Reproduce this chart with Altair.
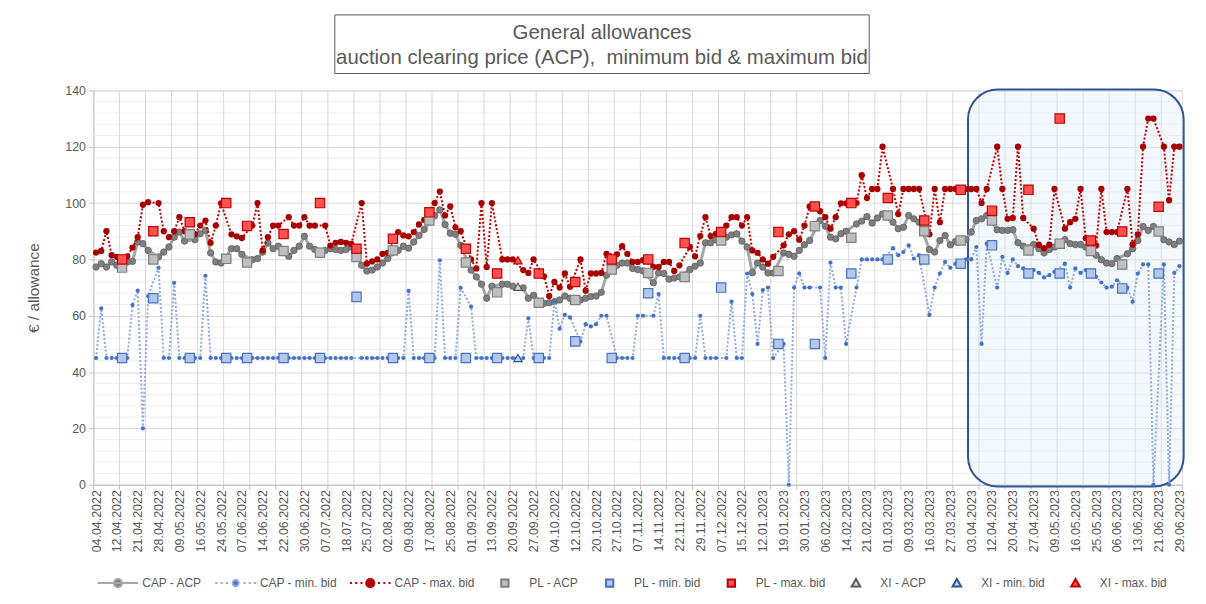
import altair as alt
import pandas as pd

# ---------------- data ----------------
N_CAT = 209          # number of auction dates (categories)
LABEL_STEP = 4       # a date label every 4th category
GRID_STEP = 5        # a vertical gridline every 5th category

X_LABELS = [
    "04.04.2022", "12.04.2022", "21.04.2022", "28.04.2022", "09.05.2022", "16.05.2022",
    "24.05.2022", "07.06.2022", "14.06.2022", "22.06.2022", "30.06.2022", "07.07.2022",
    "18.07.2022", "25.07.2022", "02.08.2022", "09.08.2022", "17.08.2022", "25.08.2022",
    "01.09.2022", "13.09.2022", "20.09.2022", "27.09.2022", "04.10.2022", "12.10.2022",
    "20.10.2022", "27.10.2022", "07.11.2022", "14.11.2022", "22.11.2022", "29.11.2022",
    "07.12.2022", "15.12.2022", "12.01.2023", "19.01.2023", "30.01.2023", "06.02.2023",
    "14.02.2023", "21.02.2023", "01.03.2023", "09.03.2023", "16.03.2023", "27.03.2023",
    "03.04.2023", "12.04.2023", "20.04.2023", "27.04.2023", "09.05.2023", "16.05.2023",
    "25.05.2023", "06.06.2023", "13.06.2023", "21.06.2023", "29.06.2023",
]

# CAP auctions (None where the date is a PL or XI auction)
CAP_ACP = [
    77.3, 78.5, 77.3, 79.1, 77.9, None, 79.1, 79.3, 86.2, 85.6,
    83.2, None, 80.9, 82.6, 84.4, 87.9, 89.7, 86.5, None, 87.0,
    89.1, 90.3, 82.3, 79.1, 78.7, None, 83.8, 83.8, 81.8, None,
    79.9, 80.3, 82.6, 85.8, 83.8, 84.7, None, 81.1, 83.2, 84.7,
    88.2, 84.7, 83.5, None, 83.2, 83.8, 83.5, 83.2, 83.5, 84.4,
    None, 77.9, 75.9, 76.2, 77.3, 78.7, 80.3, None, 83.2, 84.7,
    84.0, 86.2, 88.5, 90.6, None, 95.5, 97.6, 92.4, 89.3, 88.9,
    85.0, None, 76.2, 73.8, 71.2, 66.2, 70.5, None, 71.2, 71.2,
    70.5, None, 69.9, 66.2, 67.3, None, 64.4, 64.6, 65.0, 65.6,
    67.0, 66.2, None, 65.6, 66.2, 66.8, 67.0, 68.3, 74.4, None,
    77.9, 78.7, 78.7, 76.8, 76.4, 75.9, None, 71.7, 75.2, 75.0,
    73.0, 73.4, 73.8, None, 76.4, 77.6, 78.7, 85.9, 85.9, 87.0,
    None, 87.9, 88.7, 89.1, 86.5, 84.4, 75.3, 78.7, 77.3, 75.2,
    75.2, None, 82.3, 81.8, 81.1, 83.2, 85.2, 86.7, None, 93.8,
    91.8, 87.9, 87.3, 89.1, 90.0, None, 92.6, 93.6, 95.2, 92.9,
    94.7, 96.1, None, 93.2, 90.9, 91.4, 95.6, 94.4, 93.2, None,
    83.5, 82.6, 86.7, 88.5, 85.2, 86.4, None, 87.0, 89.7, 93.8,
    94.4, 95.6, None, 90.5, 90.3, 90.3, 90.5, 85.9, 84.7, None,
    85.3, 83.8, 82.3, 83.5, 84.4, None, 87.0, 85.6, 85.3, 85.3,
    84.4, None, 81.5, 79.9, 78.7, 78.5, 80.3, None, 82.0, 83.8,
    86.7, 91.7, 90.3, 91.7, None, 87.0, 86.2, 85.3, 86.5,
]
CAP_MIN = [
    45, 62.6, 45, 45, 45, None, 45, 63.8, 68.9, 20.0,
    67.0, None, 77.0, 45, 45, 71.7, 45, 45, None, 45,
    45, 74.2, 45, 45, 45, None, 45, 45, 45, None,
    45, 45, 45, 45, 45, 45, None, 45, 45, 45,
    45, 45, 45, None, 45, 45, 45, 45, 45, 45,
    None, 45, 45, 45, 45, 45, 45, None, 45, 45,
    68.8, 45, 45, 45, None, 45, 79.7, 45, 45, 45,
    69.9, None, 63.2, 45, 45, 45, 45, None, 45, 45,
    45, None, 45, 59.1, 45, None, 45, 45, 65.0, 55.4,
    60.3, 59.4, None, 50.9, 57.0, 56.2, 57.0, 60.0, 60.0, None,
    45, 45, 45, 45, 60.0, 60.0, None, 60.0, 67.7, 45,
    45, 45, 45, None, 45, 45, 60.0, 45, 45, 45,
    None, 45, 65.0, 45, 45, 75.0, 67.7, 50.0, 69.1, 70.0,
    45, None, 50.0, 0, 70.0, 75.0, 70.0, 70.0, None, 70.0,
    45, 78.9, 70.0, 70.0, 50.0, None, 70.0, 80.0, 80.0, 80.0,
    80.0, 80.0, None, 84.0, 81.5, 82.6, 85.0, 80.3, 81.5, None,
    60.3, 70.0, 75.0, 79.1, 77.0, 78.5, None, 80.0, 80.0, 84.4,
    50.0, 85.6, None, 70.0, 80.9, 75.2, 80.0, 77.6, 76.8, None,
    76.2, 75.2, 73.6, 74.4, 75.6, None, 78.5, 70.0, 76.8, 75.2,
    76.2, None, 73.8, 71.8, 70.0, 70.3, 72.6, None, 70.0, 65.0,
    75.0, 78.2, 78.2, 0, None, 78.2, 0, 75.2, 77.6,
]
CAP_MAX = [
    82.4, 83.0, 90.0, 81.5, 80.9, None, 81.1, 84.2, 87.9, 99.4,
    100.3, None, 100.0, 90.0, 87.9, 90.0, 95.0, 90.0, None, 89.0,
    92.0, 93.8, 85.9, 92.0, 99.9, None, 88.9, 88.2, 87.6, None,
    92.0, 100.0, 83.2, 87.9, 92.0, 92.0, None, 95.0, 92.0, 92.0,
    95.0, 92.0, 92.0, None, 92.0, 84.9, 85.9, 86.2, 85.9, 85.5,
    None, 100.0, 78.5, 79.3, 80.0, 82.0, 82.3, None, 89.7, 88.5,
    88.2, 89.7, 92.4, 94.0, None, 100.0, 104.1, 95.6, 98.8, 91.4,
    90.0, None, 80.0, 76.8, 100.0, 77.3, 100.0, None, 80.0, 80.0,
    80.0, None, 76.2, 75.2, 80.0, None, 74.0, 67.0, 72.0, 70.0,
    75.0, 70.3, None, 80.0, 68.9, 75.0, 75.0, 75.2, 82.0, None,
    81.8, 84.7, 82.0, 79.1, 79.1, 79.7, None, 77.3, 77.3, 79.1,
    79.1, 75.9, 77.9, None, 84.4, 81.1, 88.3, 95.0, 88.3, 89.1,
    None, 92.0, 95.0, 95.0, 92.0, 95.0, 83.2, 82.3, 80.0, 78.5,
    80.9, None, 85.0, 88.9, 90.0, 87.0, 92.0, 98.8, None, 97.1,
    95.0, 90.9, 95.0, 99.9, 99.9, None, 100.0, 109.9, 101.8, 105.0,
    105.0, 120.0, None, 105.0, 96.1, 105.0, 105.0, 105.0, 105.0, None,
    88.9, 105.0, 93.2, 105.0, 105.0, 105.0, None, 105.0, 105.0, 105.0,
    100.0, 105.0, None, 120.0, 105.0, 94.4, 94.7, 120.0, 94.7, None,
    90.9, 85.2, 84.0, 85.2, 105.0, None, 90.9, 93.2, 94.4, 105.0,
    87.5, None, 84.9, 105.0, 89.7, 89.7, 89.7, None, 105.0, 85.3,
    88.9, 120.0, 130.0, 130.0, None, 120.0, 101.0, 120.0, 120.0,
]

# PL auctions
PL_IDX = [5, 11, 18, 25, 29, 36, 43, 50, 57, 64, 71, 77, 85, 92, 99,
          106, 113, 120, 131, 138, 145, 152, 159, 166, 172, 179, 185, 191, 197, 204]
PL_ACP = [77.1, 80.0, 88.9, 80.2, 78.9, 83.0, 82.4, 80.9, 83.2, 93.8, 78.9, 68.3, 64.6, 65.6, 76.4,
          75.2, 73.8, 86.7, 75.9, 91.8, 87.7, 95.6, 90.0, 86.7, 93.8, 83.2, 85.6, 83.0, 78.2, 89.9]
PL_MIN = [45, 66.2, 45, 45, 45, 45, 45, 66.7, 45, 45, 45, 45, 45, 50.9, 45,
          68.0, 45, 70.0, 50.0, 50.0, 75.0, 80.0, 80.0, 78.5, 85.0, 75.0, 75.0, 75.0, 69.7, 75.0]
PL_MAX = [80.0, 90.0, 93.2, 100.0, 91.9, 89.0, 100.0, 83.8, 87.3, 96.7, 83.8, 75.0, 75.0, 72.0, 80.0,
          80.0, 85.8, 89.7, 89.7, 98.8, 100.0, 101.8, 93.8, 104.7, 97.3, 104.7, 130.0, 86.7, 89.9, 98.7]

# XI (Northern Ireland) auctions
XI_IDX = [81]
XI_ACP = [70.3]
XI_MIN = [45.0]
XI_MAX = [79.7]

SERIES = ["CAP - ACP", "CAP - min. bid", "CAP - max. bid",
          "PL - ACP", "PL - min. bid", "PL - max. bid",
          "XI - ACP", "XI - min. bid", "XI - max. bid"]
TITLE_LINES = ["General allowances",
               "auction clearing price (ACP),\u00a0 minimum bid & maximum bid"]
Y_TITLE = "€ / allowance"
Y_MAX = 140
HIGHLIGHT_X = [167.4, 208.8]   # category positions of the highlighted period
HIGHLIGHT_Y = [-0.6, 140.3]

# ---------------- styling ----------------
FONT = "Liberation Sans"
TXT = "#595959"
GRID = "#D9D9D9"
W, H = 1096, 397

C_ACP_LINE, C_ACP_PT, C_ACP_EDGE = "#A6A6A6", "#7F7F7F", "#606060"
C_MIN_LINE, C_MIN_PT = "#8FAADC", "#4472C4"
C_MAX_LINE, C_MAX_PT = "#C00000", "#A80000"

FILLS = ["#7F7F7F", "#4472C4", "#A80000", "#BFBFBF", "#B4C7E7", "#FF5050", "#D9D9D9", "#BDD7EE", "#FF5050"]
STROKES = ["#A6A6A6", "#8FAADC", "#C00000", "#7F7F7F", "#4472C4", "#C00000", "#595959", "#2F5597", "#C00000"]


def circ(r):
    return f"M{-r},0A{r},{r} 0 1,0 {r},0A{r},{r} 0 1,0 {-r},0Z"


def dots():
    p = ""
    for c in (-0.95, -0.69, -0.43, 0.43, 0.69, 0.95):
        p += f"M{c - 0.05:.2f},0H{c + 0.05:.2f}"
    return p


SQ = "M-0.18,-0.18H0.18V0.18H-0.18Z"
TRI = "M0,-0.2L0.21,0.17H-0.21Z"
PATHS = ["M-1,0H1" + circ(0.2), dots() + circ(0.15), dots() + circ(0.2),
         SQ, SQ, SQ, TRI, TRI, TRI]

xs = alt.Scale(domain=[-0.5, N_CAT - 0.5], nice=False, zero=False)
ys = alt.Scale(domain=[0, Y_MAX], nice=False, zero=True)

label_expr = "[" + ",".join(f"'{l}'" for l in X_LABELS) + f"][round(datum.value / {LABEL_STEP})]"
X_AXIS = alt.Axis(values=list(range(0, N_CAT, LABEL_STEP)), labelExpr=label_expr, labelAngle=270,
                  labelFont=FONT, labelFontSize=12.5, labelColor=TXT, labelPadding=5,
                  ticks=False, grid=False, domain=True, domainColor="#BFBFBF",
                  title=None, labelOverlap=False, labelBound=False, labelFlush=False)
Y_AXIS = alt.Axis(values=list(range(0, Y_MAX + 1, 20)), grid=True, gridColor=GRID,
                  domain=True, domainColor="#BFBFBF", ticks=True, tickSize=5, tickColor="#BFBFBF",
                  labelFont=FONT, labelFontSize=12.5, labelColor=TXT, labelPadding=3,
                  title=Y_TITLE, titleFont=FONT, titleFontSize=15.5, titleColor=TXT,
                  titleFontWeight="normal", titleX=-52, titleY=H / 2, titleAngle=270,
                  titleBaseline="bottom", titleAlign="center")


def X(field):
    return alt.X(field, type="quantitative", scale=xs, axis=X_AXIS)


def Y(field):
    return alt.Y(field, type="quantitative", scale=ys, axis=Y_AXIS)


def series_df(idx, vals):
    rows = [(i, v) for i, v in zip(idx, vals) if v is not None]
    return pd.DataFrame(rows, columns=["i", "v"])


def enc(chart):
    return chart.encode(x=X("i"), y=Y("v"))


cap_idx = list(range(N_CAT))
acp_df = series_df(cap_idx, CAP_ACP)
min_df = series_df(cap_idx, CAP_MIN)
max_df = series_df(cap_idx, CAP_MAX)

# gridlines / ticks built from category boundaries
bounds = [k * GRID_STEP - 0.5 for k in range(1, (N_CAT // GRID_STEP) + 1)]
vgrid_df = pd.DataFrame({"b": bounds, "y0": 0, "y1": Y_MAX})
tick_df = pd.DataFrame({"b": [-0.5] + bounds + [N_CAT - 0.5], "y0": 0, "y1": -1.8})
minor_df = pd.DataFrame({"m": [m for m in range(4, Y_MAX, 4) if m % 20 != 0],
                         "x0": -0.5, "x1": N_CAT - 0.5})

minor = alt.Chart(minor_df).mark_rule(color="#EFEFEF", strokeWidth=1).encode(
    y=Y("m"), x=X("x0"), x2="x1:Q")
vgrid = alt.Chart(vgrid_df).mark_rule(color=GRID, strokeWidth=1).encode(
    x=X("b"), y=Y("y0"), y2="y1:Q")
ticks = alt.Chart(tick_df).mark_rule(color="#BFBFBF", strokeWidth=1).encode(
    x=X("b"), y=Y("y0"), y2="y1:Q")

hl_df = pd.DataFrame({"x0": [HIGHLIGHT_X[0]], "x1": [HIGHLIGHT_X[1]],
                      "y0": [HIGHLIGHT_Y[0]], "y1": [HIGHLIGHT_Y[1]]})
highlight = alt.Chart(hl_df).mark_rect(cornerRadius=30, fill="#DDEBF7", fillOpacity=0.35,
                                       stroke="#2F5597", strokeWidth=2).encode(
    x=X("x0"), x2="x1:Q", y=Y("y0"), y2="y1:Q")

acp_line = enc(alt.Chart(acp_df).mark_line(color=C_ACP_LINE, strokeWidth=3))
acp_pts = enc(alt.Chart(acp_df).mark_point(shape="circle", filled=True, fill=C_ACP_PT,
                                           stroke=C_ACP_EDGE, strokeWidth=0.8, size=42, opacity=1))
min_line = enc(alt.Chart(min_df).mark_line(color=C_MIN_LINE, strokeWidth=2, strokeDash=[2, 2]))
min_pts = enc(alt.Chart(min_df).mark_point(shape="circle", filled=True, fill=C_MIN_PT,
                                           strokeWidth=0, size=18, opacity=1))
max_line = enc(alt.Chart(max_df).mark_line(color=C_MAX_LINE, strokeWidth=2, strokeDash=[2, 2]))
max_pts = enc(alt.Chart(max_df).mark_point(shape="circle", filled=True, fill=C_MAX_PT,
                                           strokeWidth=0, size=40, opacity=1))


def markers(idx, vals, shape, k, size):
    return enc(alt.Chart(series_df(idx, vals)).mark_point(
        shape=shape, filled=True, fill=FILLS[k], stroke=STROKES[k], strokeWidth=1.2,
        size=size, opacity=1))


pl_acp = markers(PL_IDX, PL_ACP, "square", 3, 88)
pl_min = markers(PL_IDX, PL_MIN, "square", 4, 88)
pl_max = markers(PL_IDX, PL_MAX, "square", 5, 88)
xi_acp = markers(XI_IDX, XI_ACP, "triangle-up", 6, 70)
xi_min = markers(XI_IDX, XI_MIN, "triangle-up", 7, 70)
xi_max = markers(XI_IDX, XI_MAX, "triangle-up", 8, 70)

leg = alt.Legend(orient="none", legendX=3.2, legendY=474.5, direction="horizontal", columns=9,
                 title=None, symbolSize=1681, symbolStrokeWidth=2, labelFont=FONT,
                 labelFontSize=12, labelColor=TXT, labelOffset=3, columnPadding=8.5,
                 symbolOffset=0, padding=0, gridAlign="none")
legend_layer = alt.Chart(pd.DataFrame({"s": SERIES})).transform_filter("false").mark_point(
    filled=True, opacity=1).encode(
    fill=alt.Fill("s:N", scale=alt.Scale(domain=SERIES, range=FILLS), legend=leg),
    stroke=alt.Stroke("s:N", scale=alt.Scale(domain=SERIES, range=STROKES), legend=leg),
    shape=alt.Shape("s:N", scale=alt.Scale(domain=SERIES, range=PATHS), legend=leg),
)

# title box
title_frame = alt.Chart(pd.DataFrame({"k": [0]})).mark_rect(
    fill="white", stroke="#595959", strokeWidth=1).encode(
    x=alt.value(243), x2=alt.value(781), y=alt.value(-76), y2=alt.value(-17))
title1 = alt.Chart(pd.DataFrame({"t": [TITLE_LINES[0]]})).mark_text(
    font=FONT, fontSize=20.5, color=TXT, align="center", baseline="middle").encode(
    text="t:N", x=alt.value(512), y=alt.value(-58))
title2 = alt.Chart(pd.DataFrame({"t": [TITLE_LINES[1]]})).mark_text(
    font=FONT, fontSize=20.5, color=TXT, align="center", baseline="middle").encode(
    text="t:N", x=alt.value(512), y=alt.value(-33))

chart = alt.layer(
    minor, vgrid, ticks, highlight,
    acp_line, acp_pts, min_line, min_pts, max_line, max_pts,
    pl_acp, pl_min, pl_max, xi_acp, xi_min, xi_max,
    legend_layer, title_frame, title1, title2,
).properties(
    width=W, height=H,
    autosize=alt.AutoSizeParams(type="none"),
    padding={"left": 86, "top": 81, "right": 16, "bottom": 104},
).configure_view(strokeWidth=0).configure(background="white")

chart.save("out.html", embed_options={"renderer": "svg", "actions": False})
